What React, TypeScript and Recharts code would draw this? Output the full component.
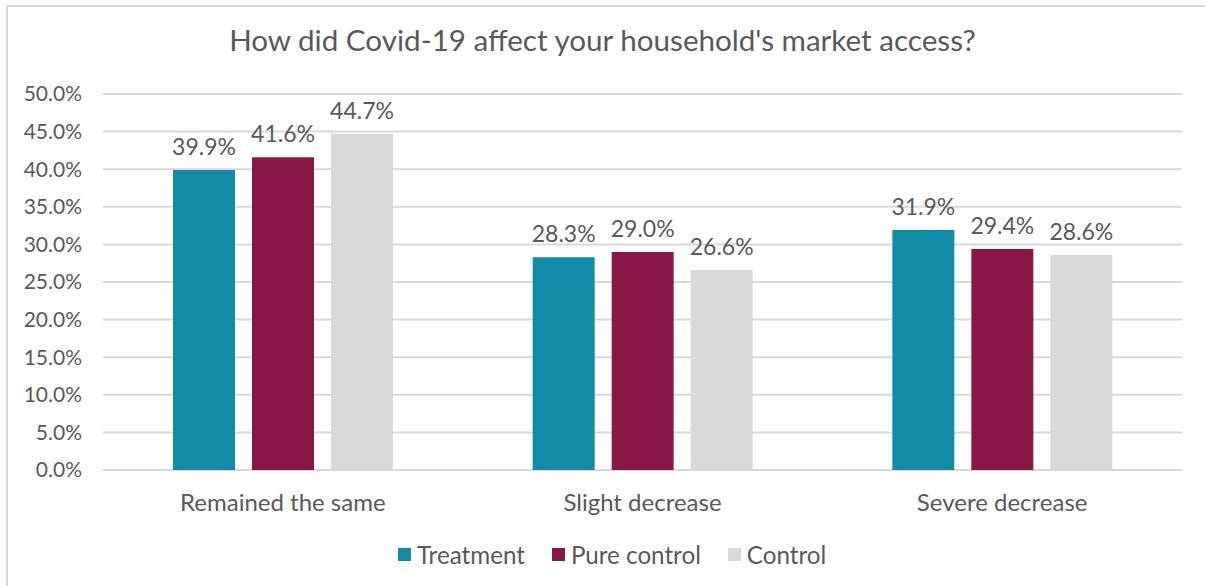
import React from "react";
import { BarChart, Bar, XAxis, YAxis, CartesianGrid, LabelList, Legend } from "recharts";

const categories = ["Remained the same", "Slight decrease", "Severe decrease"];
const treatment = [39.9, 28.3, 31.9];
const pureControl = [41.6, 29.0, 29.4];
const control = [44.7, 26.6, 28.6];
const yTicks = [0, 5, 10, 15, 20, 25, 30, 35, 40, 45, 50];
const seriesNames = ["Treatment", "Pure control", "Control"];
const seriesColors = ["#128BA9", "#881746", "#D9D9D9"];

const data = categories.map((c, i) => ({
  name: c,
  treatment: treatment[i],
  pure: pureControl[i],
  control: control[i],
}));

const FONT = "Lato, 'Open Sans', sans-serif";
const TEXT = "#595959";

const fmt = (v: any) => `${Number(v).toFixed(1)}%`;

const LegendContent = () => (
  <div style={{ display: "flex", alignItems: "center", fontFamily: FONT, fontSize: 24.2, color: TEXT, whiteSpace: "nowrap" }}>
    {seriesNames.map((n, i) => (
      <div key={n} style={{ display: "flex", alignItems: "center", marginRight: i < 2 ? 27 : 0 }}>
        <span style={{ width: 13, height: 13, background: seriesColors[i], display: "inline-block", marginRight: 6 }} />
        <span>{n}</span>
      </div>
    ))}
  </div>
);

export default function App() {
  return (
    <div style={{ position: "absolute", left: 0, top: 0, width: 1205, height: 586, overflow: "hidden", background: "#fff" }}>
      <div style={{ position: "absolute", left: 6, top: 5, width: 1220, height: 620, border: "2px solid #D9D9D9", boxSizing: "border-box" }} />
      <div style={{ position: "absolute", left: 0, top: 21, width: 1205, textAlign: "center", fontFamily: FONT, fontSize: 29.6, lineHeight: "38px", color: TEXT, whiteSpace: "nowrap" }}>
        How did Covid-19 affect your household's market access?
      </div>
      <div style={{ position: "absolute", left: 0, top: 0 }}>
        <BarChart width={1205} height={586} data={data} margin={{ top: 94, right: 23, bottom: 86, left: 0 }} barSize={62} barGap={17}>
          <CartesianGrid vertical={false} stroke="#D9D9D9" strokeWidth={2} />
          <XAxis dataKey="name" axisLine={false} tickLine={false} tickSize={0} tickMargin={24} height={30}
            tick={{ fill: TEXT, fontSize: 24, fontFamily: FONT }} />
          <YAxis domain={[0, 50]} ticks={yTicks} width={103} axisLine={false} tickLine={false} tickSize={0} tickMargin={21}
            tickFormatter={fmt} tick={{ fill: TEXT, fontSize: 21, fontFamily: FONT }} interval={0} />
          <Legend verticalAlign="middle" align="center" layout="horizontal" content={<LegendContent />}
            wrapperStyle={{ top: 540, left: 398, width: 500, height: 34 }} />
          <Bar dataKey="treatment" name="Treatment" fill={seriesColors[0]} isAnimationActive={false}>
            <LabelList dataKey="treatment" position="top" offset={15} formatter={fmt} fill={TEXT} fontSize={23} fontFamily={FONT} />
          </Bar>
          <Bar dataKey="pure" name="Pure control" fill={seriesColors[1]} isAnimationActive={false}>
            <LabelList dataKey="pure" position="top" offset={15} formatter={fmt} fill={TEXT} fontSize={23} fontFamily={FONT} />
          </Bar>
          <Bar dataKey="control" name="Control" fill={seriesColors[2]} isAnimationActive={false}>
            <LabelList dataKey="control" position="top" offset={15} formatter={fmt} fill={TEXT} fontSize={23} fontFamily={FONT} />
          </Bar>
        </BarChart>
      </div>
    </div>
  );
}
